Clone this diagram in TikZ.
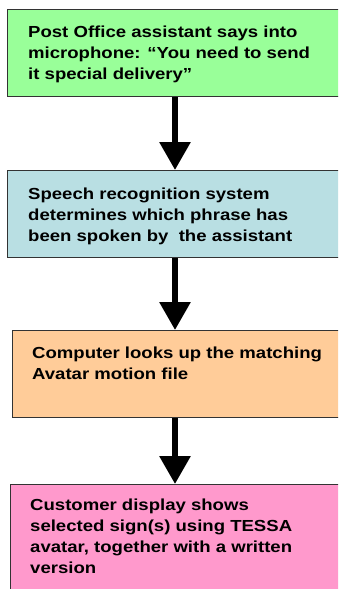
\documentclass[tikz,border=0pt]{standalone}
\usepackage{fontspec}
\setmainfont{Liberation Sans}
\newfontfamily\stepfont[FakeStretch=1.16]{Liberation Sans}
\usetikzlibrary{arrows.meta}
\definecolor{cgreen}{HTML}{99FF99}
\definecolor{cblue}{HTML}{B9DFE3}
\definecolor{cpeach}{HTML}{FFCC99}
\definecolor{cpink}{HTML}{FF99CC}
\definecolor{cborder}{HTML}{333333}
\tikzset{
  stepbox/.style={draw=cborder, line width=1pt, inner sep=0pt, anchor=north west, minimum width=345pt},
  steptext/.style={anchor=base west, inner sep=0pt, align=left, font=\stepfont\fontsize{16pt}{21pt}\selectfont\bfseries},
  flowarrow/.style={line width=6pt, -{Triangle[width=30pt,length=28pt]}}
}
\begin{document}
\begin{tikzpicture}[x=1pt,y=-1pt]
\useasboundingbox (0,0) rectangle (338,589);
\clip (0,0) rectangle (338,589);
\fill[white] (0,0) rectangle (338,589);
\node[stepbox, fill=cgreen, minimum height=87pt] (b1) at (7,9) {};
\node[stepbox, fill=cblue, minimum height=87pt] (b2) at (7,170) {};
\node[stepbox, fill=cpeach, minimum height=87pt] (b3) at (12,330) {};
\node[stepbox, fill=cpink, minimum height=120pt] (b4) at (10,484) {};
% anchor base = baseline of the last line
\node[steptext] (t1) at (28,79) {Post Office assistant says into\\microphone: “You need to send\\it special delivery”};
\node[steptext] (t2) at (28,241) {Speech recognition system\\determines which phrase has\\been spoken by\ \ the assistant};
\node[steptext] (t3) at (32,379) {Computer looks up the matching\\Avatar motion file};
\node[steptext] (t4) at (30,573) {Customer display shows\\selected sign(s) using TESSA\\avatar, together with a written\\version};
\coordinate (ax) at (175,0);
\draw[flowarrow] (b1.south -| ax) -- (b2.north -| ax);
\draw[flowarrow] (b2.south -| ax) -- (b3.north -| ax);
\draw[flowarrow] (b3.south -| ax) -- (b4.north -| ax);
\end{tikzpicture}
\end{document}
